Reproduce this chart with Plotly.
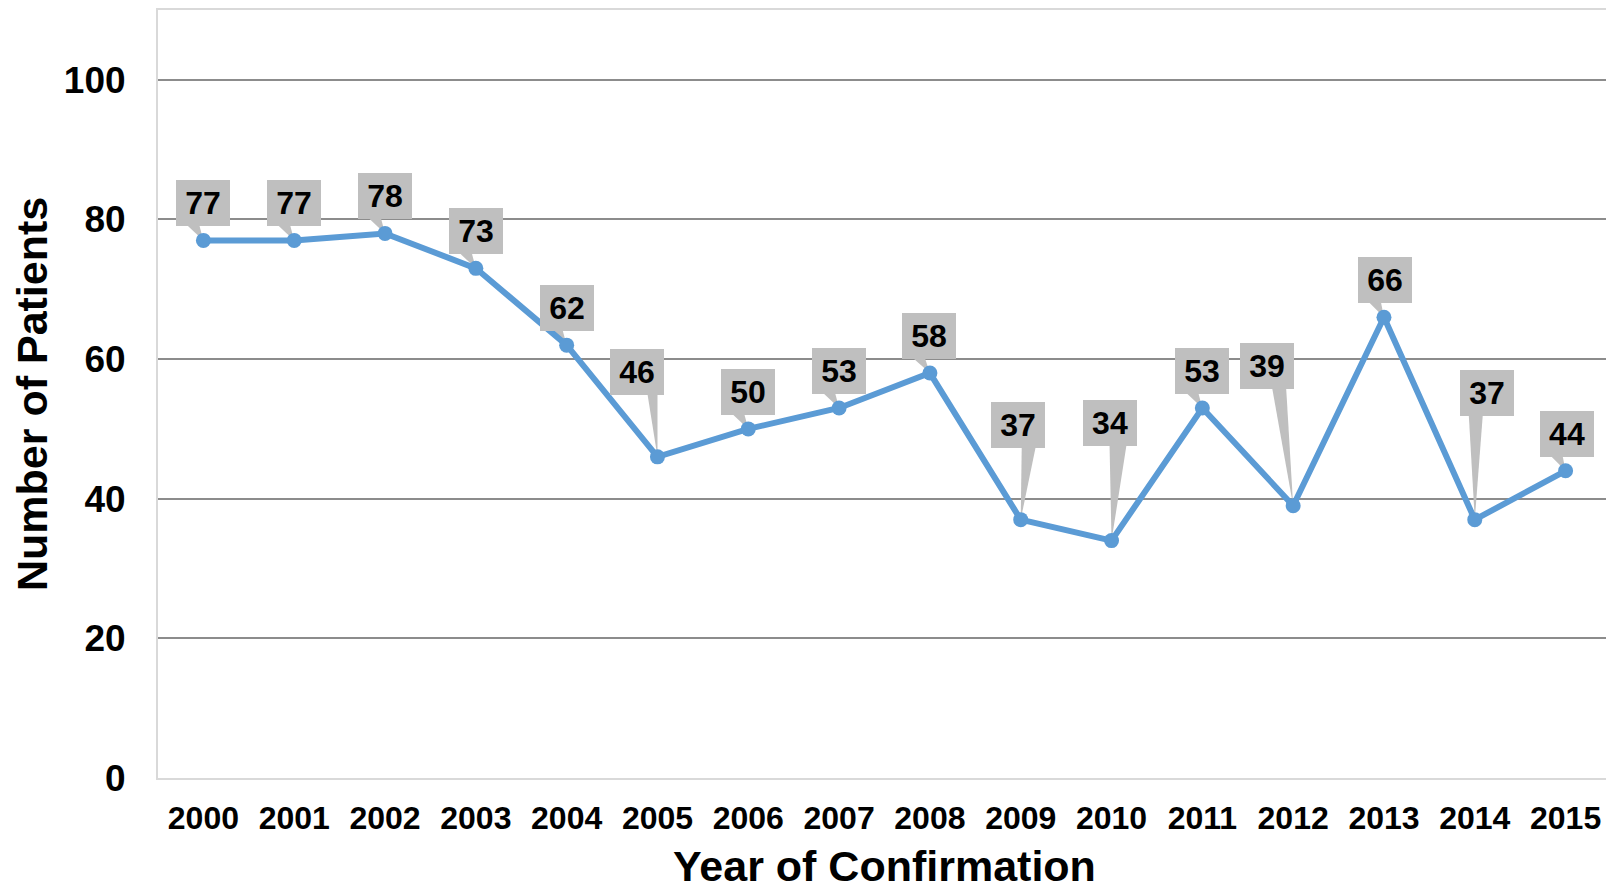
import plotly.graph_objects as go

years = list(range(2000, 2016))
patients = [77, 77, 78, 73, 62, 46, 50, 53, 58, 37, 34, 53, 39, 66, 37, 44]
y_ticks = [0, 20, 40, 60, 80, 100]
x_title = "Year of Confirmation"
y_title = "Number of Patients"

# label box offsets (pixels, box centre relative to point) and wedge base (pixels, relative to box centre)
label_dx = [0, 0, 0, 0, 0, -20, 0, 0, -1, -3, -2, 0, -26, 1, 12, 1]
label_dy = [-37, -37, -37, -37, -37, -85, -37, -37, -37, -95, -118, -37, -140, -37, -127, -37]
wedge_b0 = [-16, -16, -16, -16, -16, 10, -16, -16, -16, 4, 0, -16, 5, -16, -18, -16]
wedge_b1 = [-4, -4, -4, -4, -4, 20, -4, -4, -4, 18, 17, -4, 19, -4, -4, -4]

# page has an 8px body margin, so the figure is sized to fill the rest of the window
W, H = 1606, 877
ML, MR, MT, MB = 150, 3, 0, 107
XR = [1999.5, 2015.5]
YR = [0, 110]
kx = (W - ML - MR) / (XR[1] - XR[0])
ky = (H - MT - MB) / (YR[1] - YR[0])
BOX_W, BOX_H = 54, 46

FONT = "Liberation Sans, Arial, sans-serif"
GREY = "#bfbfbf"

fig = go.Figure()
fig.add_trace(go.Scatter(
    x=years, y=patients, mode="lines+markers",
    line=dict(color="#5b9bd5", width=6),
    marker=dict(color="#5b9bd5", size=15),
    hoverinfo="x+y", showlegend=False,
))

shapes = []
annotations = []
for i, (yr, v) in enumerate(zip(years, patients)):
    dx, dy = label_dx[i], label_dy[i]
    bottom_px = dy + BOX_H / 2 - 1
    yb = v - bottom_px / ky
    x0 = yr + (dx + wedge_b0[i]) / kx
    x1 = yr + (dx + wedge_b1[i]) / kx
    shapes.append(dict(
        type="path", xref="x", yref="y", layer="between",
        path=f"M {x0} {yb} L {x1} {yb} L {yr} {v} Z",
        fillcolor=GREY, line=dict(width=0),
    ))
    annotations.append(dict(
        x=yr, y=v, xref="x", yref="y", text=f"<b>{v}</b>", showarrow=False,
        xshift=dx, yshift=-dy, width=BOX_W, height=BOX_H, borderpad=0, borderwidth=0,
        bgcolor=GREY, font=dict(family=FONT, size=32, color="black"),
        xanchor="center", yanchor="middle", align="center", valign="middle",
    ))

annotations.append(dict(
    x=0.5, y=0, xref="paper", yref="paper", text=f"<b>{x_title}</b>", showarrow=False,
    xanchor="center", yanchor="middle", yshift=-88,
    font=dict(family=FONT, size=43, color="black"),
))
annotations.append(dict(
    x=0, y=0.5, xref="paper", yref="paper", text=f"<b>{y_title}</b>", showarrow=False,
    xanchor="center", yanchor="middle", xshift=-126, textangle=-90,
    font=dict(family=FONT, size=43, color="black"),
))

fig.update_layout(
    width=W, height=H,
    margin=dict(l=ML, r=MR, t=MT, b=MB),
    paper_bgcolor="white", plot_bgcolor="white",
    font=dict(family=FONT, color="black"),
    shapes=shapes, annotations=annotations,
    xaxis=dict(
        range=XR, tickvals=years, ticktext=[str(y) for y in years],
        tickfont=dict(family=FONT, size=32, color="black", weight="bold"),
        showgrid=False, zeroline=False, showline=True, linecolor="#d9d9d9",
        linewidth=2, mirror=True, ticks="", ticklabelstandoff=11,
    ),
    yaxis=dict(
        range=YR, tickvals=y_ticks,
        tickfont=dict(family=FONT, size=37, color="black", weight="bold"),
        showgrid=True, gridcolor="#8c8c8c", gridwidth=1.5, zeroline=False,
        showline=True, linecolor="#d9d9d9", linewidth=2, mirror=True,
        ticks="", ticklabelstandoff=23,
    ),
)

fig.write_html("out.html")
